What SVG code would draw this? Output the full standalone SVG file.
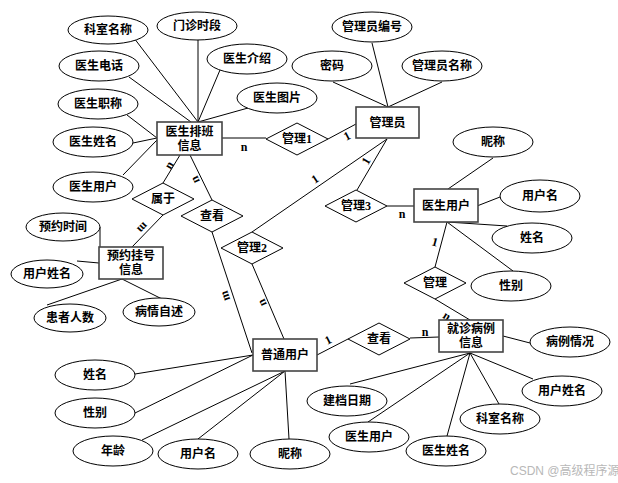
<svg xmlns="http://www.w3.org/2000/svg" width="618" height="483" viewBox="0 0 618 483">
<style>
.bg{fill:#fff}
.attr{fill:#fff;stroke:#000;stroke-width:1}
.ent{fill:#fff;stroke:#444;stroke-width:1.6}
.rel{fill:#fff;stroke:#000;stroke-width:1}
.ln{stroke:#000;stroke-width:1;fill:none}
text{font-family:"Liberation Serif","Noto Sans CJK SC",serif;font-weight:bold;font-size:12px;fill:#000;text-anchor:middle;dominant-baseline:central}
.lab{font-size:12px}
.wm{font-family:"Liberation Sans","Noto Sans CJK SC",sans-serif;font-weight:normal;fill:#b8b8b8;font-size:12px;text-anchor:start}
</style>
<rect class="bg" x="0" y="0" width="618" height="483"/>
<g id="connectors">
<line class="ln" x1="134" y1="38" x2="198" y2="122"/>
<line class="ln" x1="198" y1="40" x2="198" y2="122"/>
<line class="ln" x1="220" y1="70" x2="198" y2="122"/>
<line class="ln" x1="129" y1="77" x2="191" y2="122"/>
<line class="ln" x1="248" y1="108" x2="198" y2="122"/>
<line class="ln" x1="127" y1="115" x2="157" y2="138"/>
<line class="ln" x1="133" y1="143" x2="157" y2="138"/>
<line class="ln" x1="123" y1="175" x2="157" y2="140"/>
<line class="ln" x1="222" y1="138" x2="266" y2="138"/>
<line class="ln" x1="180" y1="155" x2="163" y2="183"/>
<line class="ln" x1="190" y1="155" x2="212" y2="200"/>
<line class="ln" x1="163" y1="215" x2="132" y2="247"/>
<line class="ln" x1="328" y1="139" x2="356" y2="124"/>
<line class="ln" x1="387" y1="139" x2="357" y2="190"/>
<line class="ln" x1="387" y1="139" x2="252" y2="232"/>
<line class="ln" x1="333" y1="82" x2="388" y2="107"/>
<line class="ln" x1="372" y1="43" x2="388" y2="107"/>
<line class="ln" x1="442" y1="82" x2="388" y2="107"/>
<line class="ln" x1="387" y1="206" x2="414" y2="206"/>
<line class="ln" x1="493" y1="158" x2="448" y2="189"/>
<line class="ln" x1="500" y1="197" x2="477" y2="206"/>
<line class="ln" x1="447" y1="222" x2="507" y2="226"/>
<line class="ln" x1="447" y1="222" x2="513" y2="271"/>
<line class="ln" x1="447" y1="222" x2="435" y2="267"/>
<line class="ln" x1="435" y1="299" x2="470" y2="320"/>
<line class="ln" x1="212" y1="232" x2="252" y2="353"/>
<line class="ln" x1="252" y1="264" x2="284" y2="339"/>
<line class="ln" x1="317" y1="355" x2="348" y2="339"/>
<line class="ln" x1="410" y1="338" x2="439" y2="337"/>
<line class="ln" x1="135" y1="374" x2="253" y2="355"/>
<line class="ln" x1="135" y1="413" x2="253" y2="355"/>
<line class="ln" x1="142" y1="440" x2="285" y2="371"/>
<line class="ln" x1="198" y1="439" x2="285" y2="371"/>
<line class="ln" x1="289" y1="439" x2="285" y2="371"/>
<line class="ln" x1="350" y1="384" x2="470" y2="353"/>
<line class="ln" x1="368" y1="422" x2="470" y2="353"/>
<line class="ln" x1="447" y1="436" x2="470" y2="353"/>
<line class="ln" x1="499" y1="404" x2="470" y2="353"/>
<line class="ln" x1="533" y1="379" x2="470" y2="353"/>
<line class="ln" x1="503" y1="336" x2="530" y2="343"/>
<line class="ln" x1="100" y1="227" x2="100" y2="247"/>
<line class="ln" x1="77" y1="261" x2="99" y2="263"/>
<line class="ln" x1="47" y1="305" x2="122" y2="279"/>
<line class="ln" x1="162" y1="299" x2="122" y2="279"/>
<text class="lab" x="244" y="147">n</text>
<text class="lab" transform="translate(169,165) rotate(-59)">n</text>
<text class="lab" transform="translate(195,180) rotate(-115)">n</text>
<text class="lab" transform="translate(143,228) rotate(134)">m</text>
<text class="lab" transform="translate(347,136) rotate(-28)">1</text>
<text class="lab" transform="translate(366,161) rotate(-60)">1</text>
<text class="lab" transform="translate(315,179) rotate(-34)">1</text>
<text class="lab" x="402" y="214">n</text>
<text class="lab" transform="translate(435,242) rotate(15)">1</text>
<text class="lab" transform="translate(447,316) rotate(32)">n</text>
<text class="lab" transform="translate(225,296) rotate(-108)">m</text>
<text class="lab" transform="translate(262,303) rotate(-115)">n</text>
<text class="lab" transform="translate(328,340) rotate(-27)">1</text>
<text class="lab" x="425" y="332">n</text>
</g>
<g id="attr-keshi1"><ellipse class="attr" cx="108" cy="30" rx="40" ry="14"/><text x="108" y="30">科室名称</text></g>
<g id="attr-menzhen"><ellipse class="attr" cx="197" cy="26" rx="40" ry="14"/><text x="197" y="26">门诊时段</text></g>
<g id="attr-jieshao"><ellipse class="attr" cx="247" cy="59" rx="40" ry="15"/><text x="247" y="59">医生介绍</text></g>
<g id="attr-dianhua"><ellipse class="attr" cx="99" cy="66" rx="40" ry="15"/><text x="99" y="66">医生电话</text></g>
<g id="attr-tupian"><ellipse class="attr" cx="277" cy="98" rx="40" ry="15"/><text x="277" y="98">医生图片</text></g>
<g id="attr-zhicheng"><ellipse class="attr" cx="98" cy="104" rx="40" ry="15"/><text x="98" y="104">医生职称</text></g>
<g id="attr-ysxm1"><ellipse class="attr" cx="93" cy="142" rx="40" ry="15"/><text x="93" y="142">医生姓名</text></g>
<g id="attr-ysyh1"><ellipse class="attr" cx="93" cy="187" rx="40" ry="15"/><text x="93" y="187">医生用户</text></g>
<g id="attr-yysj"><ellipse class="attr" cx="63" cy="227" rx="37" ry="14"/><text x="63" y="227">预约时间</text></g>
<g id="attr-yhxm1"><ellipse class="attr" cx="47" cy="274" rx="36" ry="14"/><text x="47" y="274">用户姓名</text></g>
<g id="attr-hzrs"><ellipse class="attr" cx="70" cy="318" rx="36" ry="14"/><text x="70" y="318">患者人数</text></g>
<g id="attr-bqzs"><ellipse class="attr" cx="159" cy="312" rx="36" ry="14"/><text x="159" y="312">病情自述</text></g>
<g id="attr-glybh"><ellipse class="attr" cx="372" cy="27" rx="40" ry="15"/><text x="372" y="27">管理员编号</text></g>
<g id="attr-mima"><ellipse class="attr" cx="332" cy="66" rx="40" ry="15"/><text x="332" y="66">密码</text></g>
<g id="attr-glymc"><ellipse class="attr" cx="442" cy="66" rx="40" ry="15"/><text x="442" y="66">管理员名称</text></g>
<g id="attr-nc1"><ellipse class="attr" cx="493" cy="142" rx="40" ry="15"/><text x="493" y="142">昵称</text></g>
<g id="attr-yhm1"><ellipse class="attr" cx="540" cy="196" rx="40" ry="16"/><text x="540" y="196">用户名</text></g>
<g id="attr-xm1"><ellipse class="attr" cx="532" cy="238" rx="40" ry="15"/><text x="532" y="238">姓名</text></g>
<g id="attr-xb1"><ellipse class="attr" cx="511" cy="286" rx="40" ry="15"/><text x="511" y="286">性别</text></g>
<g id="attr-xm2"><ellipse class="attr" cx="95" cy="375" rx="40" ry="15"/><text x="95" y="375">姓名</text></g>
<g id="attr-xb2"><ellipse class="attr" cx="95" cy="413" rx="40" ry="15"/><text x="95" y="413">性别</text></g>
<g id="attr-nl"><ellipse class="attr" cx="113" cy="451" rx="40" ry="15"/><text x="113" y="451">年龄</text></g>
<g id="attr-yhm2"><ellipse class="attr" cx="198" cy="454" rx="40" ry="15"/><text x="198" y="454">用户名</text></g>
<g id="attr-nc2"><ellipse class="attr" cx="290" cy="454" rx="40" ry="15"/><text x="290" y="454">昵称</text></g>
<g id="attr-blqk"><ellipse class="attr" cx="570" cy="342" rx="40" ry="15"/><text x="570" y="342">病例情况</text></g>
<g id="attr-yhxm2"><ellipse class="attr" cx="562" cy="391" rx="40" ry="15"/><text x="562" y="391">用户姓名</text></g>
<g id="attr-keshi2"><ellipse class="attr" cx="500" cy="419" rx="40" ry="15"/><text x="500" y="419">科室名称</text></g>
<g id="attr-jdrq"><ellipse class="attr" cx="347" cy="401" rx="40" ry="15"/><text x="347" y="401">建档日期</text></g>
<g id="attr-ysyh2"><ellipse class="attr" cx="369" cy="437" rx="40" ry="15"/><text x="369" y="437">医生用户</text></g>
<g id="attr-ysxm2"><ellipse class="attr" cx="446" cy="451" rx="40" ry="15"/><text x="446" y="451">医生姓名</text></g>
<g id="ent-paiban"><rect class="ent" x="157" y="122" width="65" height="33"/><text x="189.5" y="132">医生排班</text><text x="189.5" y="146">信息</text></g>
<g id="ent-admin"><rect class="ent" x="356" y="107" width="63" height="31"/><text x="387.5" y="123">管理员</text></g>
<g id="ent-doctor"><rect class="ent" x="414" y="189" width="64" height="33"/><text x="446" y="206">医生用户</text></g>
<g id="ent-yuyue"><rect class="ent" x="99" y="247" width="64" height="32"/><text x="131" y="256">预约挂号</text><text x="131" y="270">信息</text></g>
<g id="ent-user"><rect class="ent" x="253" y="339" width="64" height="32"/><text x="285" y="355">普通用户</text></g>
<g id="ent-case"><rect class="ent" x="439" y="320" width="64" height="32"/><text x="471" y="329">就诊病例</text><text x="471" y="343">信息</text></g>
<g id="rel-guanli1"><polygon class="rel" points="266,139 297,123 328,139 297,155"/><text x="297" y="139">管理1</text></g>
<g id="rel-shuyu"><polygon class="rel" points="132,199 163,183 194,199 163,215"/><text x="163" y="199">属于</text></g>
<g id="rel-chakan1"><polygon class="rel" points="181,216 212,200 243,216 212,232"/><text x="212" y="216">查看</text></g>
<g id="rel-guanli2"><polygon class="rel" points="221,248 252,232 283,248 252,264"/><text x="252" y="248">管理2</text></g>
<g id="rel-guanli3"><polygon class="rel" points="325,206 356,190 387,206 356,222"/><text x="356" y="206">管理3</text></g>
<g id="rel-guanli"><polygon class="rel" points="404,283 435,267 466,283 435,299"/><text x="435" y="283">管理</text></g>
<g id="rel-chakan2"><polygon class="rel" points="348,339 379,323 410,339 379,355"/><text x="379" y="339">查看</text></g>
<text class="wm" x="510" y="471">CSDN @高级程序源</text>
</svg>
